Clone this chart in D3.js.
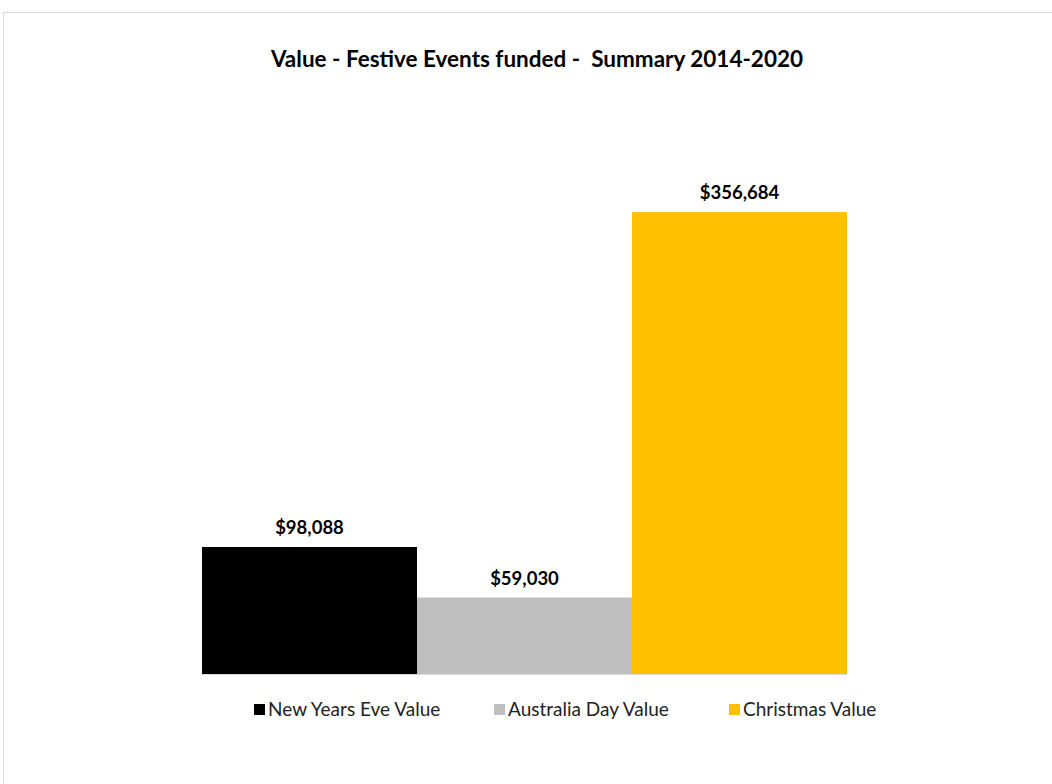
<!DOCTYPE html>
<html><head><meta charset="utf-8">
<script src="https://cdn.jsdelivr.net/npm/d3@7"></script>
<style>body{margin:0;background:#fff}svg{display:block}</style>
</head><body>
<script>
const categories = ["New Years Eve Value", "Australia Day Value", "Christmas Value"];
const values = [98088, 59030, 356684];
const colors = ["#000000", "#bfbfbf", "#ffc000"];
const title = "Value - Festive Events funded -  Summary 2014-2020";

const W = 1052, H = 784;
const svg = d3.select("body").append("svg").attr("width", W).attr("height", H);
svg.append("rect").attr("x", 3.5).attr("y", 12.5).attr("width", W).attr("height", H)
  .attr("fill", "#fff").attr("stroke", "#d9d9d9").attr("stroke-width", 1);

const font = "Lato, 'Open Sans', sans-serif";
svg.append("text").attr("x", 537).attr("y", 67).attr("text-anchor", "middle")
  .attr("font-family", font).attr("font-weight", "bold").attr("font-size", 22.5).attr("fill", "#000")
  .style("white-space", "pre").text(title);

const x = d3.scaleBand().domain(categories).range([202, 847]).paddingInner(0).paddingOuter(0);
const y = d3.scaleLinear().domain([0, 400000]).range([674, 156]);

const fmt = v => "$" + d3.format(",")(v);
svg.selectAll("rect.bar").data(categories).join("rect").attr("class", "bar")
  .attr("x", d => x(d)).attr("width", x.bandwidth())
  .attr("y", (d, i) => y(values[i])).attr("height", (d, i) => y(0) - y(values[i]))
  .attr("fill", (d, i) => colors[i]);

svg.append("line").attr("x1", 202).attr("x2", 847).attr("y1", y(0) + 0.5).attr("y2", y(0) + 0.5)
  .attr("stroke", "#d9d9d9");

svg.selectAll("text.lbl").data(categories).join("text").attr("class", "lbl")
  .attr("x", d => x(d) + x.bandwidth() / 2).attr("y", (d, i) => y(values[i]) - 13)
  .attr("text-anchor", "middle").attr("font-family", font).attr("font-weight", "bold")
  .attr("font-size", 18.5).attr("fill", "#000").text((d, i) => fmt(values[i]));

const legendX = [254, 494, 729];
const lg = svg.selectAll("g.lg").data(categories).join("g").attr("class", "lg")
  .attr("transform", (d, i) => `translate(${legendX[i]},710)`);
lg.append("rect").attr("x", 0).attr("y", -6).attr("width", 11).attr("height", 11).attr("fill", (d, i) => colors[i]);
lg.append("text").attr("x", 14).attr("y", 6).attr("font-family", font).attr("font-size", 19)
  .attr("fill", "#222").text(d => d);
</script>
</body></html>
